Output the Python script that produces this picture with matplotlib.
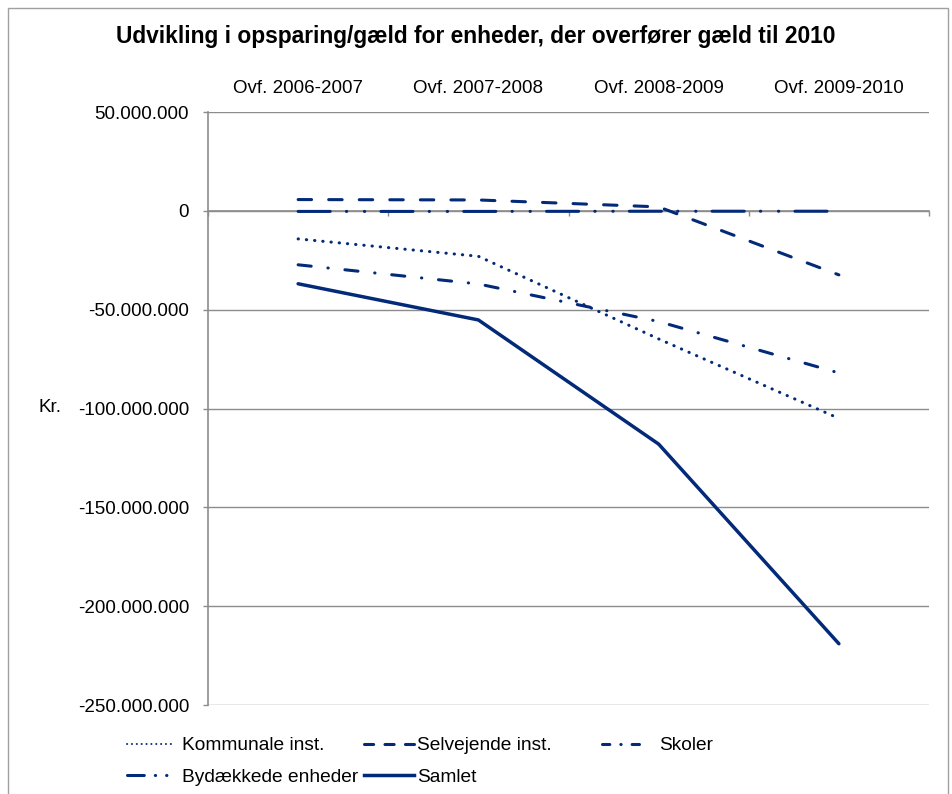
import matplotlib
matplotlib.use("Agg")
import matplotlib.pyplot as plt
from matplotlib.ticker import FuncFormatter, FixedLocator
from matplotlib.patches import Rectangle
from matplotlib.lines import Line2D

plt.rcParams['font.family'] = ['Liberation Sans', 'DejaVu Sans']

categories = ["Ovf. 2006-2007", "Ovf. 2007-2008", "Ovf. 2008-2009", "Ovf. 2009-2010"]
kommunale = [-14.2e6, -23.0e6, -64.8e6, -105.0e6]
selvejende = [5.7e6, 5.5e6, 2.0e6, -32.4e6]
skoler = [-27.3e6, -37.0e6, -56.0e6, -82.0e6]
bydaekkede = [-0.3e6, -0.3e6, -0.2e6, -0.2e6]
samlet = [-36.9e6, -55.2e6, -118.0e6, -219.0e6]
y_ticks = [50e6, 0, -50e6, -100e6, -150e6, -200e6, -250e6]

navy = '#022a78'
grid_c = '#8c8c8c'
fs = 13.5

fig = plt.figure(figsize=(9.53, 7.94), dpi=100)
W, H = 953, 794
ax = fig.add_axes([208 / W, 1 - 705 / H, (929 - 208) / W, (705 - 112) / H])

x = list(range(1, len(categories) + 1))
lw = 2.2
ax.plot(x, kommunale, color=navy, lw=lw, linestyle=(0, (0.1, 2.6)), zorder=3,
        dash_capstyle='round', solid_capstyle='round')
ax.plot(x, selvejende, color=navy, lw=lw, linestyle=(0, (4.4, 5.6)), zorder=3,
        dash_capstyle='round')
ax.plot(x, skoler, color=navy, lw=lw, linestyle=(0, (4.3, 5.5, 0.1, 5.5)), zorder=3,
        dash_capstyle='round')
ax.plot(x, bydaekkede, color=navy, lw=lw, zorder=3,
        linestyle=(0, (10.5, 5.3, 0.1, 5.8, 0.1, 5.3)), dash_capstyle='round')
ax.plot(x, samlet, color=navy, lw=2.5, solid_capstyle='round', zorder=3)

ax.set_xlim(0.5, len(categories) + 0.5)
ax.set_ylim(-250e6, 50e6)
ax.yaxis.set_major_locator(FixedLocator(y_ticks))
ax.yaxis.set_major_formatter(FuncFormatter(lambda v, p: f"{int(round(v)):,}".replace(',', '.')))
ax.tick_params(axis='y', direction='out', length=3.6, width=1, color=grid_c, pad=10, labelsize=fs)
ax.grid(axis='y', color=grid_c, lw=1.0)
ax.set_axisbelow(True)

for s in ['top', 'right']:
    ax.spines[s].set_visible(False)
ax.spines['left'].set_color(grid_c)
ax.spines['left'].set_linewidth(1.2)
ax.spines['bottom'].set_position(('data', 0))
ax.spines['bottom'].set_color(grid_c)
ax.spines['bottom'].set_linewidth(1.2)
ax.set_xticks([i + 0.5 for i in range(0, len(categories) + 1)])
ax.tick_params(axis='x', direction='out', length=3.6, width=1, color=grid_c, labelbottom=False)

sec = ax.secondary_xaxis('top')
sec.set_xticks(x)
sec.set_xticklabels(categories)
sec.tick_params(length=0, pad=11, labelsize=fs)
sec.spines['top'].set_visible(False)

fig.text(50 / W, 1 - 408 / H, 'Kr.', fontsize=fs, ha='center', va='center')
fig.text(476 / W, 1 - 37 / H, 'Udvikling i opsparing/gæld for enheder, der overfører gæld til 2010',
         fontsize=16.4, fontweight='bold', ha='center', va='center')

# legend proxies (compressed patterns as in the reference legend)
h_kom = Line2D([], [], color=navy, lw=1.4, linestyle=(0, (0.1, 2.4)), dash_capstyle='round',
               label='Kommunale inst.')
h_sel = Line2D([], [], color=navy, lw=lw, linestyle=(0, (3.0, 3.7)), dash_capstyle='round',
               label='Selvejende inst.')
h_sko = Line2D([], [], color=navy, lw=lw, linestyle=(0, (2.4, 3.6, 0.1, 3.6)),
               dash_capstyle='round', label='Skoler')
h_byd = Line2D([], [], color=navy, lw=lw, linestyle=(0, (5.5, 3.6, 0.1, 3.6, 0.1, 10)),
               dash_capstyle='round', label='Bydækkede enheder')
h_sam = Line2D([], [], color=navy, lw=2.5, label='Samlet')

lfs = 13.8
common = dict(frameon=False, loc='upper left', fontsize=lfs,
              labelspacing=0.75, borderpad=0, borderaxespad=0)
for hs, xl, pad, hl in [([h_kom, h_byd], 127, 0.35, 2.5), ([h_sel, h_sam], 364, 0.15, 2.6),
                        ([h_sko], 602, 1.0, 2.0)]:
    fig.legend(handles=hs, labels=[h.get_label() for h in hs], handlelength=hl,
               bbox_to_anchor=(xl / W, 1 - 737 / H), handletextpad=pad, **common)

fig.patches.append(Rectangle((8 / W, -0.05), (948 - 8) / W, 1 - 8 / H + 0.05,
                             transform=fig.transFigure, fill=False, edgecolor='#a0a0a0', lw=1))

fig.savefig('out.png', dpi=100)
